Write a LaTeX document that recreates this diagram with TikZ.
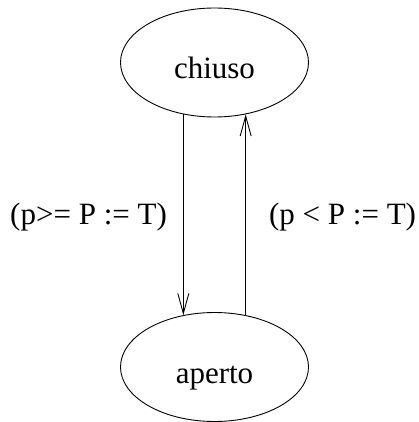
\documentclass[tikz,border=0pt]{standalone}
\usepackage{fontspec}
\setmainfont{Liberation Serif}
\usetikzlibrary{arrows.meta,shapes.geometric}

\begin{document}
\begin{tikzpicture}[x=1pt,y=-1pt,every node/.style={font=\fontsize{31}{36}\selectfont},>={Straight Barb[length=20pt,width=11pt]},
  state/.style={draw,ellipse,line width=0.9pt,minimum width=188pt,minimum height=109pt,inner sep=0pt,text height=32pt,text depth=0pt}]
\useasboundingbox (0,0) rectangle (418,422);
\node[state] (chiuso) at (214.5,62.5) {chiuso};
\node[state] (aperto) at (214.5,367) {aperto};
\draw[->,line width=0.9pt] (chiuso.-121) -- node[pos=0.51,left=16pt,inner sep=0pt]{(p>= P := T)} (aperto.121);
\draw[->,line width=0.9pt] (aperto.59) -- node[pos=0.49,right=23pt,inner sep=0pt]{(p < P := T)} (chiuso.-59);
\end{tikzpicture}
\end{document}
